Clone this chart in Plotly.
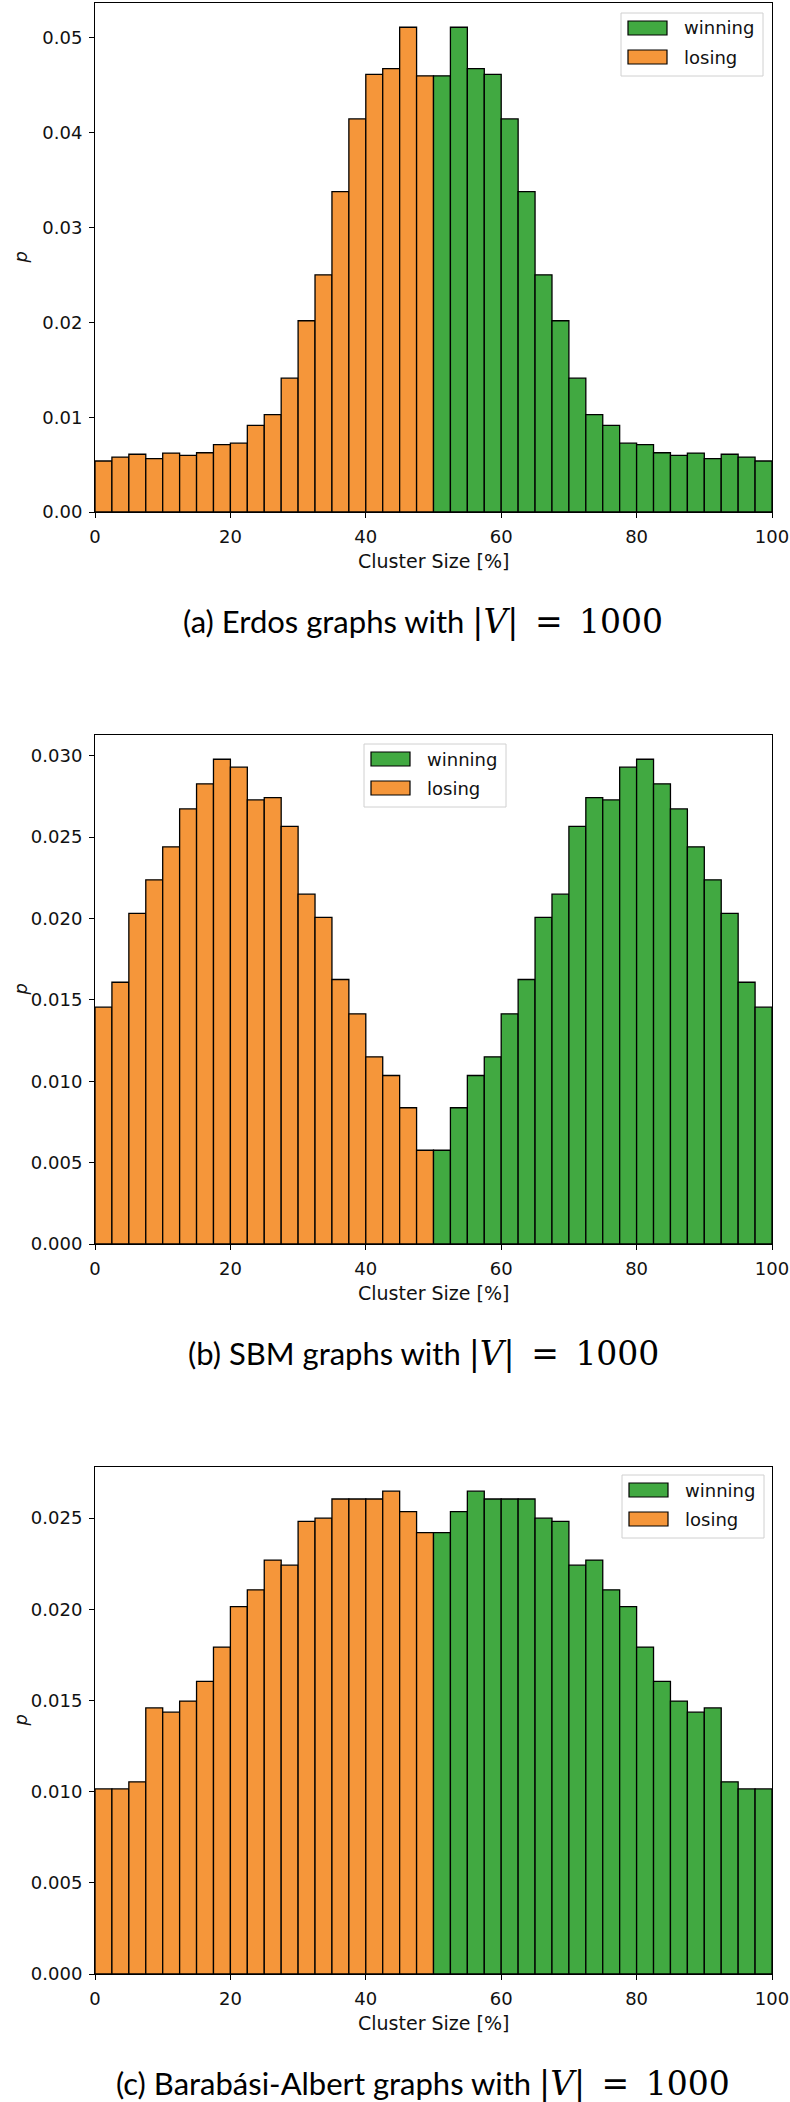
import numpy as np
import plotly.graph_objects as go

# ---------------- data ----------------
bin_width = 2.5
losing_centers = (np.arange(0, 50, bin_width) + bin_width / 2).tolist()
winning_centers = (np.arange(50, 100, bin_width) + bin_width / 2).tolist()

erdos_losing = [0.00538, 0.00579, 0.00609, 0.00564, 0.00621, 0.00598, 0.00625, 0.00711, 0.00726, 0.00914,
                0.01027, 0.01411, 0.02017, 0.02502, 0.03379, 0.04146, 0.04616, 0.04676, 0.05113, 0.04601]
erdos_winning = [0.04601, 0.05113, 0.04676, 0.04616, 0.04146, 0.03379, 0.02502, 0.02017, 0.01411, 0.01027,
                 0.00914, 0.00726, 0.00711, 0.00625, 0.00598, 0.00621, 0.00564, 0.00609, 0.00579, 0.00538]

sbm_losing = [0.01455, 0.01608, 0.02031, 0.02237, 0.02440, 0.02673, 0.02827, 0.02978, 0.02929, 0.02728,
              0.02742, 0.02566, 0.02149, 0.02006, 0.01625, 0.01414, 0.01150, 0.01035, 0.00837, 0.00576]
sbm_winning = [0.00576, 0.00837, 0.01035, 0.01150, 0.01414, 0.01625, 0.02006, 0.02149, 0.02566, 0.02742,
               0.02728, 0.02929, 0.02978, 0.02827, 0.02673, 0.02440, 0.02237, 0.02031, 0.01608, 0.01455]

ba_losing = [0.01015, 0.01015, 0.01054, 0.01459, 0.01436, 0.01497, 0.01605, 0.01793, 0.02015, 0.02107,
             0.02270, 0.02242, 0.02482, 0.02500, 0.02605, 0.02605, 0.02605, 0.02648, 0.02536, 0.02421]
ba_winning = [0.02421, 0.02536, 0.02648, 0.02605, 0.02605, 0.02605, 0.02500, 0.02482, 0.02242, 0.02270,
              0.02107, 0.02015, 0.01793, 0.01605, 0.01497, 0.01436, 0.01459, 0.01054, 0.01015, 0.01015]

captions = ["(a) Erdos graphs with ", "(b) SBM graphs with ", "(c) Barabási-Albert graphs with "]
caption_math = "|<i>V</i>|\u2002=\u20021000"
x_ticks = [0, 20, 40, 60, 80, 100]
series_names = ["winning", "losing"]

# ---------------- style ----------------
W, H = 790, 2102
GREEN = "#41a941"
ORANGE = "#f5963a"
FONT = "DejaVu Sans"

def px(x):
    return x / W

def py(y):
    return 1 - y / H

plot_left, plot_right = 95, 772
panels = [
    dict(top=3, bottom=512, data=(erdos_winning, erdos_losing), dtick=0.01, fmt=".2f", legend=(621, 13)),
    dict(top=735, bottom=1244, data=(sbm_winning, sbm_losing), dtick=0.005, fmt=".3f", legend=(364, 744)),
    dict(top=1467, bottom=1974, data=(ba_winning, ba_losing), dtick=0.005, fmt=".3f", legend=(622, 1475)),
]

fig = go.Figure()
shapes = []
annotations = []

for i, p in enumerate(panels):
    k = "" if i == 0 else str(i + 1)
    win, lose = p["data"]
    fig.add_trace(go.Bar(x=losing_centers, y=lose, width=bin_width, name=series_names[1],
                         marker=dict(color=ORANGE, line=dict(color="black", width=1.3)),
                         xaxis="x" + k, yaxis="y" + k, showlegend=False))
    fig.add_trace(go.Bar(x=winning_centers, y=win, width=bin_width, name=series_names[0],
                         marker=dict(color=GREEN, line=dict(color="black", width=1.3)),
                         xaxis="x" + k, yaxis="y" + k, showlegend=False))
    ymax = max(max(win), max(lose)) * 1.05
    axis_common = dict(showgrid=False, zeroline=False, showline=True, mirror=True, automargin=False,
                       linecolor="black", linewidth=1, ticks="outside", ticklen=5, tickwidth=1,
                       tickcolor="black", ticklabelstandoff=3,
                       tickfont=dict(family=FONT, size=18, color="#111"))
    fig.update_layout(**{
        "xaxis" + k: dict(domain=[px(plot_left), px(plot_right)], anchor="y" + k, range=[0, 100],
                          tickvals=x_ticks, **axis_common),
        "yaxis" + k: dict(domain=[py(p["bottom"]), py(p["top"])], anchor="x" + k, range=[0, ymax],
                          dtick=p["dtick"], tick0=0, tickformat=p["fmt"], **axis_common),
    })
    # axis titles
    annotations.append(dict(x=px((plot_left + plot_right) / 2), y=py(p["bottom"] + 49), xref="paper", yref="paper",
                            text="Cluster Size [%]", showarrow=False, xanchor="center", yanchor="middle",
                            font=dict(family=FONT, size=19, color="#111")))
    annotations.append(dict(x=px(20), y=py((p["top"] + p["bottom"]) / 2), xref="paper", yref="paper",
                            text="<i>p</i>", showarrow=False, textangle=-90, xanchor="center", yanchor="middle",
                            font=dict(family=FONT, size=18, color="#111")))
    # caption
    annotations.append(dict(x=px(423), y=py(p["bottom"] + 109), xref="paper", yref="paper",
                            text=captions[i] + "<span style='font-family:DejaVu Serif;font-size:33px'>"
                                 + caption_math + "</span>",
                            showarrow=False, xanchor="center", yanchor="middle",
                            font=dict(family="Lato", size=31, color="black")))
    # legend (drawn like matplotlib's)
    lx, ly = p["legend"]
    shapes.append(dict(type="rect", xref="paper", yref="paper", x0=px(lx), x1=px(lx + 142),
                       y0=py(ly), y1=py(ly + 63), line=dict(color="#d0d0d0", width=1),
                       fillcolor="rgba(255,255,255,0.8)", layer="above"))
    for j, (name, col) in enumerate([(series_names[0], GREEN), (series_names[1], ORANGE)]):
        yt = ly + 8 + j * 29
        shapes.append(dict(type="rect", xref="paper", yref="paper", x0=px(lx + 7), x1=px(lx + 46),
                           y0=py(yt), y1=py(yt + 14), line=dict(color="black", width=1.2),
                           fillcolor=col, layer="above"))
        annotations.append(dict(x=px(lx + 61), y=py(yt + 7), xref="paper", yref="paper", text=name,
                                showarrow=False, xanchor="left", yanchor="middle",
                                font=dict(family=FONT, size=18, color="#111")))

fig.update_layout(width=W, height=H, margin=dict(l=0, r=0, t=0, b=0, autoexpand=False),
                  paper_bgcolor="white", plot_bgcolor="white", barmode="overlay", bargap=0,
                  shapes=shapes, annotations=annotations, showlegend=False, hovermode=False)

fig.write_html("out.html", config={"displayModeBar": False, "staticPlot": True},
               post_script="document.body.style.margin='0';document.body.style.overflow='hidden';")
